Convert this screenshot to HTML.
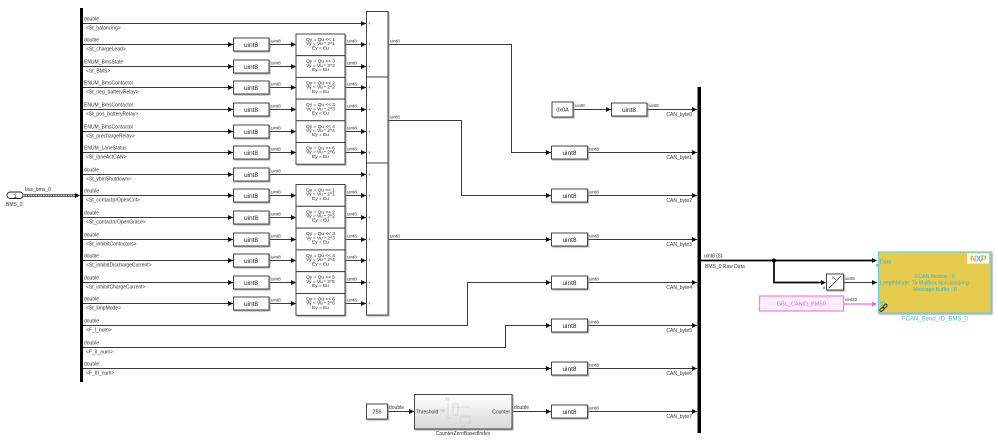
<!DOCTYPE html>
<html><head><meta charset="utf-8"><style>
html,body{margin:0;padding:0;background:#fff;}
svg{display:block;}
text{font-family:"Liberation Sans",Arial,sans-serif;}
.l{font-size:5px;fill:#333;}
.b{font-size:6.5px;fill:#222;text-anchor:middle;}
.s{font-size:4.8px;fill:#222;text-anchor:middle;}
.w{stroke:#3a3a3a;stroke-width:1;fill:none;}
.blk{fill:#fff;stroke:#333;stroke-width:0.9;}
.ar{fill:#111;}
</style></head><body>
<svg width="998" height="444" viewBox="0 0 998 444" xmlns="http://www.w3.org/2000/svg">
<defs>
<filter id="sh" x="-10%" y="-10%" width="130%" height="140%"><feDropShadow dx="1" dy="1" stdDeviation="0.4" flood-color="#888" flood-opacity="0.8"/></filter>
<linearGradient id="gr" x1="0" y1="0" x2="0" y2="1"><stop offset="0" stop-color="#fff"/><stop offset="1" stop-color="#d8d8d8"/></linearGradient>
</defs>

<!-- input port -->
<rect x="7" y="192" width="16" height="6.5" rx="3.2" fill="#fff" stroke="#222" stroke-width="0.9"/>
<text x="15" y="197.8" style="font-size:6px;fill:#111;text-anchor:middle">1</text>
<text x="6" y="206" class="l">BMS_0</text>
<text x="25" y="191" class="l">bus_bms_0</text>
<line x1="23" y1="195.5" x2="76" y2="195.5" stroke="#666" stroke-width="3"/>
<line x1="23" y1="195.5" x2="76" y2="195.5" stroke="#ddd" stroke-width="1" stroke-dasharray="1.5,1"/>
<polygon class="ar" points="80,195.5 75,193 75,198"/>

<!-- bus selector bar -->
<rect x="80" y="8" width="3" height="374" fill="#000"/>

<!-- row wires -->
<g class="w">
<path d="M83 23.5H366"/>
<path d="M83 44.5H233"/><path d="M83 66.5H233"/><path d="M83 87.5H233"/><path d="M83 109.5H233"/><path d="M83 131.5H233"/><path d="M83 152.5H233"/><path d="M83 174.5H233"/><path d="M83 195.5H233"/><path d="M83 217.5H233"/><path d="M83 239.5H233"/><path d="M83 260.5H233"/><path d="M83 282.5H233"/><path d="M83 303.5H233"/>
<path d="M83 325.5H467.5V282.5H551"/>
<path d="M83 347.5H505.5V325.5H551"/>
<path d="M83 368.5H551"/>
<path d="M269 44.5H296"/><path d="M269 66.5H296"/><path d="M269 87.5H296"/><path d="M269 109.5H296"/><path d="M269 131.5H296"/><path d="M269 152.5H296"/>
<path d="M269 174.5H366"/>
<path d="M269 195.5H296"/><path d="M269 217.5H296"/><path d="M269 239.5H296"/><path d="M269 260.5H296"/><path d="M269 282.5H296"/><path d="M269 303.5H296"/>
<path d="M345 44.5H366"/><path d="M345 66.5H366"/><path d="M345 87.5H366"/><path d="M345 109.5H366"/><path d="M345 131.5H366"/><path d="M345 152.5H366"/>
<path d="M345 195.5H366"/><path d="M345 217.5H366"/><path d="M345 239.5H366"/><path d="M345 260.5H366"/><path d="M345 282.5H366"/><path d="M345 303.5H366"/>
<path d="M388 44.5H511.5V152.5H551"/>
<path d="M388 120.5H461.5V195.5H551"/>
<path d="M388 239.5H551"/>
<path d="M573 109.5H611"/>
<path d="M647 109.5H697"/>
<path d="M587.5 152.5H697"/><path d="M587.5 195.5H697"/><path d="M587.5 239.5H697"/><path d="M587.5 282.5H697"/><path d="M587.5 325.5H697"/><path d="M587.5 368.5H697"/><path d="M587.5 411.5H697"/>
<path d="M387 411.5H414"/>
<path d="M512 411.5H551"/>
<path d="M843.5 282.5H877"/>
</g>

<!-- arrows -->
<g class="ar">
<polygon points="366,23.5 361,21 361,26"/>
<polygon points="233,44.5 228,42 228,47"/><polygon points="233,66.5 228,64 228,69"/><polygon points="233,87.5 228,85 228,90"/><polygon points="233,109.5 228,107 228,112"/><polygon points="233,131.5 228,129 228,134"/><polygon points="233,152.5 228,150 228,155"/><polygon points="233,174.5 228,172 228,177"/><polygon points="233,195.5 228,193 228,198"/><polygon points="233,217.5 228,215 228,220"/><polygon points="233,239.5 228,237 228,242"/><polygon points="233,260.5 228,258 228,263"/><polygon points="233,282.5 228,280 228,285"/><polygon points="233,303.5 228,301 228,306"/>
<polygon points="296,44.5 291,42 291,47"/><polygon points="296,66.5 291,64 291,69"/><polygon points="296,87.5 291,85 291,90"/><polygon points="296,109.5 291,107 291,112"/><polygon points="296,131.5 291,129 291,134"/><polygon points="296,152.5 291,150 291,155"/>
<polygon points="296,195.5 291,193 291,198"/><polygon points="296,217.5 291,215 291,220"/><polygon points="296,239.5 291,237 291,242"/><polygon points="296,260.5 291,258 291,263"/><polygon points="296,282.5 291,280 291,285"/><polygon points="296,303.5 291,301 291,306"/>
<polygon points="366,44.5 361,42 361,47"/><polygon points="366,66.5 361,64 361,69"/><polygon points="366,87.5 361,85 361,90"/><polygon points="366,109.5 361,107 361,112"/><polygon points="366,131.5 361,129 361,134"/><polygon points="366,152.5 361,150 361,155"/><polygon points="366,174.5 361,172 361,177"/>
<polygon points="366,195.5 361,193 361,198"/><polygon points="366,217.5 361,215 361,220"/><polygon points="366,239.5 361,237 361,242"/><polygon points="366,260.5 361,258 361,263"/><polygon points="366,282.5 361,280 361,285"/><polygon points="366,303.5 361,301 361,306"/>
<polygon points="551,152.5 546,150 546,155"/><polygon points="551,195.5 546,193 546,198"/><polygon points="551,239.5 546,237 546,242"/><polygon points="551,282.5 546,280 546,285"/><polygon points="551,325.5 546,323 546,328"/><polygon points="551,368.5 546,366 546,371"/><polygon points="551,411.5 546,409 546,414"/>
<polygon points="611,109.5 606,107 606,112"/>
<polygon points="697,109.5 692,107 692,112"/><polygon points="697,152.5 692,150 692,155"/><polygon points="697,195.5 692,193 692,198"/><polygon points="697,239.5 692,237 692,242"/><polygon points="697,282.5 692,280 692,285"/><polygon points="697,325.5 692,323 692,328"/><polygon points="697,368.5 692,366 692,371"/><polygon points="697,411.5 692,409 692,414"/>
<polygon points="414,411.5 409,409 409,414"/>
<polygon points="877,260.5 872,258 872,263"/>
<polygon points="826,282.5 821,280 821,285"/>
<polygon points="877,282.5 872,280 872,285"/>
</g>

<!-- row labels -->
<g class="l">
<text x="84" y="20.5">double</text><text x="86" y="29.5">&lt;St_balancing&gt;</text>
<text x="84" y="41.5">double</text><text x="86" y="50.5">&lt;St_chargeLead&gt;</text>
<text x="84" y="63.5">ENUM_BmsState</text><text x="86" y="72.5">&lt;St_BMS&gt;</text>
<text x="84" y="84.5">ENUM_BmsContactor</text><text x="86" y="93.5">&lt;St_neg_batteryRelay&gt;</text>
<text x="84" y="106.5">ENUM_BmsContactor</text><text x="86" y="115.5">&lt;St_pos_batteryRelay&gt;</text>
<text x="84" y="128.5">ENUM_BmsContactor</text><text x="86" y="137.5">&lt;St_prechargeRelay&gt;</text>
<text x="84" y="149.5">ENUM_LaneStatus</text><text x="86" y="158.5">&lt;St_laneActCAN&gt;</text>
<text x="84" y="171.5">double</text><text x="86" y="180.5">&lt;St_vbmShutdown&gt;</text>
<text x="84" y="192.5">double</text><text x="86" y="201.5">&lt;St_contactorOpenCrit&gt;</text>
<text x="84" y="214.5">double</text><text x="86" y="223.5">&lt;St_contactorOpenGrace&gt;</text>
<text x="84" y="236.5">double</text><text x="86" y="245.5">&lt;St_inhibitContactors&gt;</text>
<text x="84" y="257.5">double</text><text x="86" y="266.5">&lt;St_inhibitDischargeCurrent&gt;</text>
<text x="84" y="279.5">double</text><text x="86" y="288.5">&lt;St_inhibitChargeCurrent&gt;</text>
<text x="84" y="300.5">double</text><text x="86" y="309.5">&lt;St_limpMode&gt;</text>
<text x="84" y="322.5">double</text><text x="86" y="331.5">&lt;F_I_num&gt;</text>
<text x="84" y="344.5">double</text><text x="86" y="353.5">&lt;F_II_num&gt;</text>
<text x="84" y="365.5">double</text><text x="86" y="374.5">&lt;F_III_num&gt;</text>
</g>

<!-- left uint8 blocks -->
<g filter="url(#sh)">
<rect x="233.5" y="38" width="35.5" height="13" class="blk"/>
<rect x="233.5" y="60" width="35.5" height="13" class="blk"/>
<rect x="233.5" y="81" width="35.5" height="13" class="blk"/>
<rect x="233.5" y="103" width="35.5" height="13" class="blk"/>
<rect x="233.5" y="125" width="35.5" height="13" class="blk"/>
<rect x="233.5" y="146" width="35.5" height="13" class="blk"/>
<rect x="233.5" y="168" width="35.5" height="13" class="blk"/>
<rect x="233.5" y="189" width="35.5" height="13" class="blk"/>
<rect x="233.5" y="211" width="35.5" height="13" class="blk"/>
<rect x="233.5" y="233" width="35.5" height="13" class="blk"/>
<rect x="233.5" y="254" width="35.5" height="13" class="blk"/>
<rect x="233.5" y="276" width="35.5" height="13" class="blk"/>
<rect x="233.5" y="297" width="35.5" height="13" class="blk"/>
</g>
<g class="b">
<text x="251" y="47">uint8</text><text x="251" y="69">uint8</text><text x="251" y="90">uint8</text><text x="251" y="112">uint8</text><text x="251" y="134">uint8</text><text x="251" y="155">uint8</text><text x="251" y="177">uint8</text><text x="251" y="198">uint8</text><text x="251" y="220">uint8</text><text x="251" y="242">uint8</text><text x="251" y="263">uint8</text><text x="251" y="285">uint8</text><text x="251" y="306">uint8</text>
</g>
<g class="l" style="font-size:4.5px">
<text x="271" y="42.5">uint8</text><text x="271" y="64.5">uint8</text><text x="271" y="85.5">uint8</text><text x="271" y="107.5">uint8</text><text x="271" y="129.5">uint8</text><text x="271" y="150.5">uint8</text><text x="271" y="172.5">uint8</text><text x="271" y="193.5">uint8</text><text x="271" y="215.5">uint8</text><text x="271" y="237.5">uint8</text><text x="271" y="258.5">uint8</text><text x="271" y="280.5">uint8</text><text x="271" y="301.5">uint8</text>
<text x="347" y="42.5">uint8</text><text x="347" y="64.5">uint8</text><text x="347" y="85.5">uint8</text><text x="347" y="107.5">uint8</text><text x="347" y="129.5">uint8</text><text x="347" y="150.5">uint8</text>
<text x="347" y="193.5">uint8</text><text x="347" y="215.5">uint8</text><text x="347" y="237.5">uint8</text><text x="347" y="258.5">uint8</text><text x="347" y="280.5">uint8</text><text x="347" y="301.5">uint8</text>
<text x="390" y="42.5">uint8</text><text x="390" y="118.5">uint8</text><text x="390" y="237.5">uint8</text>
</g>

<!-- shift blocks -->
<g filter="url(#sh)">
<rect x="296" y="34" width="49" height="21.7" class="blk"/>
<rect x="296" y="55.7" width="49" height="21.7" class="blk"/>
<rect x="296" y="77.4" width="49" height="21.7" class="blk"/>
<rect x="296" y="99.1" width="49" height="21.7" class="blk"/>
<rect x="296" y="120.8" width="49" height="21.7" class="blk"/>
<rect x="296" y="142.5" width="49" height="21.7" class="blk"/>
<rect x="296" y="184.5" width="49" height="21.8" class="blk"/>
<rect x="296" y="206.3" width="49" height="21.8" class="blk"/>
<rect x="296" y="228.1" width="49" height="21.8" class="blk"/>
<rect x="296" y="249.9" width="49" height="21.8" class="blk"/>
<rect x="296" y="271.7" width="49" height="21.8" class="blk"/>
<rect x="296" y="293.5" width="49" height="21.8" class="blk"/>
</g>
<g class="s">
<text x="320.5" y="41">Qy = Qu &lt;&lt; 1</text><text x="320.5" y="45.2">Vy = Vu * 2^1</text><text x="320.5" y="49.4">Ey = Eu</text>
<text x="320.5" y="62.7">Qy = Qu &lt;&lt; 3</text><text x="320.5" y="66.9">Vy = Vu * 2^3</text><text x="320.5" y="71.1">Ey = Eu</text>
<text x="320.5" y="84.4">Qy = Qu &lt;&lt; 2</text><text x="320.5" y="88.6">Vy = Vu * 2^2</text><text x="320.5" y="92.8">Ey = Eu</text>
<text x="320.5" y="106.1">Qy = Qu &lt;&lt; 3</text><text x="320.5" y="110.3">Vy = Vu * 2^3</text><text x="320.5" y="114.5">Ey = Eu</text>
<text x="320.5" y="127.8">Qy = Qu &lt;&lt; 4</text><text x="320.5" y="132">Vy = Vu * 2^4</text><text x="320.5" y="136.2">Ey = Eu</text>
<text x="320.5" y="149.5">Qy = Qu &lt;&lt; 6</text><text x="320.5" y="153.7">Vy = Vu * 2^6</text><text x="320.5" y="157.9">Ey = Eu</text>
<text x="320.5" y="191.5">Qy = Qu &lt;&lt; 1</text><text x="320.5" y="195.7">Vy = Vu * 2^1</text><text x="320.5" y="199.9">Ey = Eu</text>
<text x="320.5" y="213.3">Qy = Qu &lt;&lt; 2</text><text x="320.5" y="217.5">Vy = Vu * 2^2</text><text x="320.5" y="221.7">Ey = Eu</text>
<text x="320.5" y="235.1">Qy = Qu &lt;&lt; 3</text><text x="320.5" y="239.3">Vy = Vu * 2^3</text><text x="320.5" y="243.5">Ey = Eu</text>
<text x="320.5" y="256.9">Qy = Qu &lt;&lt; 4</text><text x="320.5" y="261.1">Vy = Vu * 2^4</text><text x="320.5" y="265.3">Ey = Eu</text>
<text x="320.5" y="278.7">Qy = Qu &lt;&lt; 5</text><text x="320.5" y="282.9">Vy = Vu * 2^5</text><text x="320.5" y="287.1">Ey = Eu</text>
<text x="320.5" y="300.5">Qy = Qu &lt;&lt; 6</text><text x="320.5" y="304.7">Vy = Vu * 2^6</text><text x="320.5" y="308.9">Ey = Eu</text>
</g>

<!-- adders -->
<g filter="url(#sh)">
<rect x="366.5" y="11.5" width="21.5" height="65.5" class="blk"/>
<rect x="366.5" y="77" width="21.5" height="86" class="blk"/>
<rect x="366.5" y="163" width="21.5" height="152" class="blk"/>
</g>
<g class="l" style="font-size:4.5px">
<text x="368" y="25">+</text><text x="368" y="46">+</text><text x="368" y="68">+</text>
<text x="368" y="89">+</text><text x="368" y="111">+</text><text x="368" y="133">+</text><text x="368" y="154">+</text>
<text x="368" y="176">+</text><text x="368" y="197">+</text><text x="368" y="219">+</text><text x="368" y="241">+</text><text x="368" y="262">+</text><text x="368" y="284">+</text><text x="368" y="305">+</text>
</g>

<!-- right blocks -->
<g filter="url(#sh)">
<rect x="552" y="102" width="21" height="15" class="blk"/>
<rect x="611.5" y="103" width="35.5" height="13" class="blk"/>
<rect x="551.5" y="146" width="36" height="13" class="blk"/>
<rect x="551.5" y="189" width="36" height="13" class="blk"/>
<rect x="551.5" y="233" width="36" height="13" class="blk"/>
<rect x="551.5" y="276" width="36" height="13" class="blk"/>
<rect x="551.5" y="319" width="36" height="13" class="blk"/>
<rect x="551.5" y="362" width="36" height="13" class="blk"/>
<rect x="551.5" y="405" width="36" height="13" class="blk"/>
<rect x="366.5" y="404" width="21" height="15" class="blk"/>
<rect x="414.5" y="394.5" width="97.5" height="34.5" fill="url(#gr)" stroke="#333" stroke-width="0.9"/>
</g>
<text x="562.5" y="111.5" class="b" style="font-size:5.5px">0x0A</text>
<g class="b">
<text x="629" y="112">uint8</text>
<text x="569.5" y="155">uint8</text><text x="569.5" y="198">uint8</text><text x="569.5" y="242">uint8</text><text x="569.5" y="285">uint8</text><text x="569.5" y="328">uint8</text><text x="569.5" y="371">uint8</text><text x="569.5" y="414">uint8</text>
</g>
<text x="377" y="413.5" class="b" style="font-size:5.5px">255</text>
<g class="l" style="font-size:4.5px">
<text x="575" y="107">uint8</text><text x="649" y="107">uint8</text>
<text x="589" y="150.5">uint8</text><text x="589" y="193.5">uint8</text><text x="589" y="237.5">uint8</text><text x="589" y="280.5">uint8</text><text x="589" y="323.5">uint8</text><text x="589" y="366.5">uint8</text><text x="589" y="409.5">uint8</text>
</g>
<g class="l" style="text-anchor:end">
<text x="692" y="116">CAN_byte0</text><text x="692" y="159">CAN_byte1</text><text x="692" y="202">CAN_byte2</text><text x="692" y="246">CAN_byte3</text><text x="692" y="289">CAN_byte4</text><text x="692" y="332">CAN_byte5</text><text x="692" y="375">CAN_byte6</text><text x="692" y="418">CAN_byte7</text>
</g>

<!-- counter subsystem inner faint drawing -->
<g stroke="#c8c8c8" stroke-width="0.6" fill="none">
<rect x="446" y="398" width="3" height="2"/>
<path d="M436 410H446M452 407H470M460 416H470V424M448 403V418H452M440 410.5h3"/>
<rect x="453" y="404" width="5" height="11"/>
<rect x="460" y="417" width="10" height="6"/>
<rect x="462" y="426" width="3" height="2"/>
<circle cx="443" cy="410.5" r="1.2"/>
</g>
<text x="416" y="413.5" class="l">Threshold</text>
<text x="510" y="413.5" class="l" style="text-anchor:end">Counter</text>
<text x="463" y="435" class="l" style="text-anchor:middle">CounterZeroBasedIndex</text>
<text x="389" y="409" class="l">double</text>
<text x="514" y="409" class="l">double</text>

<!-- mux -->
<rect x="697.5" y="87" width="3.5" height="346" fill="#000"/>
<path d="M701 260.5H872M774 260.5V282.5H821" stroke="#000" stroke-width="1.7" fill="none"/>
<circle cx="774" cy="260.5" r="2" fill="#000"/>
<text x="704" y="257.5" class="l">uint8 (8)</text>
<text x="705" y="268" class="l">BMS_0 Raw Data</text>

<!-- selector -->
<rect x="826.5" y="274" width="17" height="16" class="blk" filter="url(#sh)"/>
<line x1="829" y1="288" x2="841" y2="276" stroke="#222" stroke-width="0.7"/>
<line x1="834" y1="278" x2="836" y2="280" stroke="#222" stroke-width="0.5"/>
<text x="832" y="279" class="l" style="font-size:3.5px">8</text>
<text x="823" y="289" class="l" style="font-size:3.5px">8</text>
<text x="845" y="280" class="l" style="font-size:4.5px">uint8</text>

<!-- GBL pink -->
<rect x="759.5" y="296" width="84" height="15" fill="#fdeefc" stroke="#f27cec" stroke-width="1.2"/>
<text x="801.5" y="305.5" style="font-size:5.5px;fill:#e85ee0;text-anchor:middle">GBL_CANID_BMS0</text>
<text x="845" y="301" class="l" style="font-size:4.5px">uint32</text>
<line x1="843.5" y1="304" x2="873" y2="304" stroke="#f57ef0" stroke-width="1.4"/>
<polygon points="877,304 872,301.5 872,306.5" fill="#f266ea"/>

<!-- NXP block -->
<rect x="878.5" y="252" width="112.5" height="61" fill="#e6cb50" stroke="#6fd2d2" stroke-width="1.3" filter="url(#sh)"/>
<rect x="967" y="253.5" width="22" height="10" fill="#fff"/>
<text x="978" y="261.5" style="font-size:8.5px;font-weight:bold;text-anchor:middle;letter-spacing:-0.6px"><tspan fill="#f2a81d">N</tspan><tspan fill="#6ab2dd">X</tspan><tspan fill="#9bc53c">P</tspan></text>
<g style="font-size:5.2px;fill:#34b8c4">
<text x="880" y="263.5">Data</text>
<text x="880" y="284.5">LengthMode</text>
<text x="880" y="305.5">ID</text>
<text x="935" y="278" style="text-anchor:middle">FCAN Module : 0</text>
<text x="909" y="284.5">: Tx Mailbox Non-blocking</text>
<text x="935" y="291" style="text-anchor:middle">Message Buffer : 0</text>
</g>
<text x="876" y="266.5" class="l" style="font-size:3.5px">8</text>
<g stroke="#333" stroke-width="1" fill="none">
<rect x="879.5" y="308" width="5" height="2.5" rx="1.2" transform="rotate(-45 882 309.3)"/>
<rect x="882.5" y="305" width="5" height="2.5" rx="1.2" transform="rotate(-45 885 306.3)"/>
</g>
<text x="935" y="320.5" style="font-size:6px;fill:#3cc0c8;text-anchor:middle">FCAN_Send_ID_BMS_0</text>
</svg>
</body></html>
